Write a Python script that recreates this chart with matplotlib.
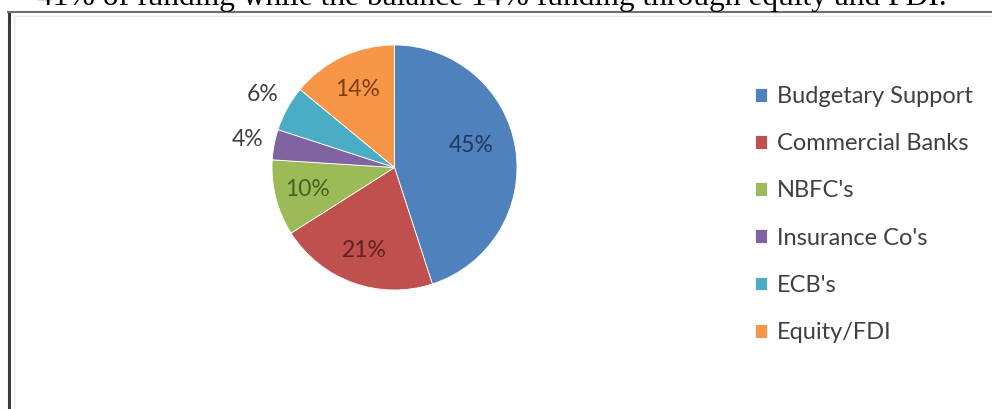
import matplotlib
matplotlib.use("Agg")
import matplotlib.pyplot as plt
import numpy as np
from matplotlib.lines import Line2D

categories = ["Budgetary Support", "Commercial Banks", "NBFC's", "Insurance Co's", "ECB's", "Equity/FDI"]
values = [45, 21, 10, 4, 6, 14]
pct_labels = ["45%", "21%", "10%", "4%", "6%", "14%"]
colors = ["#4F81BD", "#C0504D", "#9BBB59", "#8064A2", "#4BACC6", "#F79646"]
label_colors = ["#1F3A60", "#5E2220", "#4A5E24", "#404040", "#404040", "#7A4010"]
label_radius = [0.65, 0.72, 0.73, 1.22, 1.23, 0.70]
label_angle_shift = [7, 0, 0, 0, 0, 0]
top_text = "41% of funding while the balance 14% funding through equity and FDI."

W, H = 992, 409
fig = plt.figure(figsize=(W / 100, H / 100), dpi=100)
fig.patch.set_facecolor("white")

# pie axes: center (394.5, 167.5) px from top, radius 122.5 px
r_px = 122.5
cx, cy = 394.5, 167.5
ax = fig.add_axes([(cx - r_px) / W, (H - cy - r_px) / H, 2 * r_px / W, 2 * r_px / H])
wedges, _ = ax.pie(values, colors=colors, startangle=90, counterclock=False,
                   radius=1.0, wedgeprops=dict(edgecolor="#ffffff", linewidth=0.6))
ax.set_xlim(-1, 1)
ax.set_ylim(-1, 1)
ax.set_aspect("equal")
ax.axis("off")

for w, lab, rr, sh, col in zip(wedges, pct_labels, label_radius, label_angle_shift, label_colors):
    ang = np.deg2rad((w.theta1 + w.theta2) / 2 + sh)
    ax.text(rr * np.cos(ang), rr * np.sin(ang), lab, ha="center", va="center",
            fontsize=16.5, family="Lato", color=col)

leg = fig.legend(wedges, categories, loc="upper left",
                 bbox_to_anchor=(755 / W, 1 - 86 / H), frameon=False,
                 prop=dict(family="Lato", size=17), labelcolor="#404040",
                 handlelength=0.52, handleheight=0.52, handletextpad=0.4,
                 labelspacing=1.11, borderpad=0, borderaxespad=0)

# top cut-off text
fig.text(947 / W, 1 - 5 / H, top_text, ha="right", va="baseline",
         family="Liberation Serif", fontsize=22.7, color="#000000")

# frame lines (box continuing beyond the image)
fig.add_artist(Line2D([8.5 / W, 8.5 / W], [0, 1 - 12 / H], transform=fig.transFigure,
                      color="#3a3a3a", linewidth=2.2, solid_capstyle="butt"))
fig.add_artist(Line2D([7 / W, 1], [1 - 12 / H, 1 - 12 / H], transform=fig.transFigure,
                      color="#707070", linewidth=1.5, solid_capstyle="butt"))
fig.add_artist(Line2D([14 / W, 14 / W], [0, 1 - 15 / H], transform=fig.transFigure,
                      color="#e6e6e6", linewidth=1.0))
fig.add_artist(Line2D([14 / W, 1], [1 - 15.5 / H, 1 - 15.5 / H], transform=fig.transFigure,
                      color="#ececec", linewidth=1.0))

fig.savefig("out.png", dpi=100)
